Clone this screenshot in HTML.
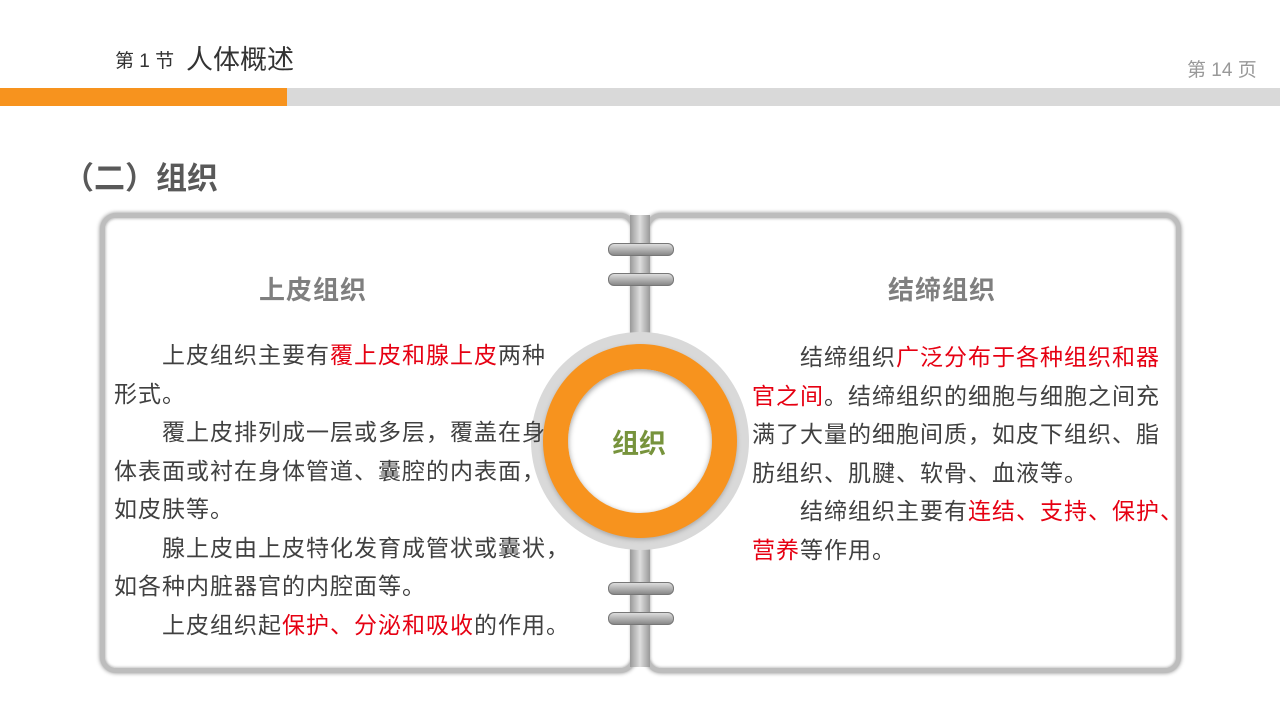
<!DOCTYPE html>
<html><head><meta charset="utf-8"><style>
body{margin:0;width:1280px;height:720px;background:#fff;position:relative;overflow:hidden;font-family:"Liberation Sans","Noto Sans CJK SC",sans-serif;}
.a{position:absolute;white-space:nowrap}
.panel{position:absolute;top:213px;height:450px;border:5px solid #bdbdbd;border-radius:16px;background:#fff;box-shadow:0 0 4px #888, inset 0 0 3px #999;}
.t{font-size:23px;letter-spacing:1px;color:#404040;line-height:38.5px;position:absolute}
.r{color:#e60012}
.ring{position:absolute;left:608px;width:64px;height:11px;border-radius:6px;background:linear-gradient(#ddd,#888);border:1px solid #777}
</style></head><body>
<div class="a" style="left:115px;top:46px;font-size:19px;color:#333">第 1 节</div>
<div class="a" style="left:186px;top:38px;font-size:27px;color:#333">人体概述</div>
<div class="a" style="left:1187px;top:55px;font-size:19px;color:#999">第 14 页</div>
<div class="a" style="left:0;top:88px;width:287px;height:18px;background:#f7931e"></div>
<div class="a" style="left:287px;top:88px;width:993px;height:18px;background:#d9d9d9"></div>
<div class="a" style="left:63px;top:153px;font-size:31px;font-weight:bold;color:#595959">（二）组织</div>

<div class="panel" style="left:100px;width:526px"></div>
<div class="panel" style="left:645px;width:526px"></div>
<div class="a" style="left:630px;top:215px;width:20px;height:452px;background:linear-gradient(90deg,#999,#ddd,#999)"></div>
<div class="ring" style="top:243px"></div>
<div class="ring" style="top:273px"></div>
<div class="ring" style="top:582px"></div>
<div class="ring" style="top:612px"></div>

<div class="a" style="left:531px;top:332px;width:218px;height:218px;border-radius:50%;background:#d9d9d9"></div>
<div class="a" style="left:543px;top:344px;width:194px;height:194px;border-radius:50%;background:#f7931e;box-shadow:0 2px 4px #aaa"></div>
<div class="a" style="left:568px;top:369px;width:144px;height:144px;border-radius:50%;background:#fff;box-shadow:inset 0 2px 6px #999"></div>
<div class="a" style="left:612px;top:422px;font-size:27px;font-weight:bold;color:#77933c">组织</div>

<div class="a" style="left:259px;top:270px;font-size:26px;letter-spacing:1px;font-weight:bold;color:#7f7f7f">上皮组织</div>
<div class="a" style="left:888px;top:270px;font-size:26px;letter-spacing:1px;font-weight:bold;color:#7f7f7f">结缔组织</div>

<div class="t" style="left:114px;top:336px;width:460px">
<div>　　上皮组织主要有<span class="r">覆上皮和腺上皮</span>两种</div>
<div>形式。</div>
<div>　　覆上皮排列成一层或多层，覆盖在身</div>
<div>体表面或衬在身体管道、囊腔的内表面，</div>
<div>如皮肤等。</div>
<div>　　腺上皮由上皮特化发育成管状或囊状，</div>
<div>如各种内脏器官的内腔面等。</div>
<div>　　上皮组织起<span class="r">保护、分泌和吸收</span>的作用。</div>
</div>
<div class="t" style="left:752px;top:338px;width:440px">
<div>　　结缔组织<span class="r">广泛分布于各种组织和器</span></div>
<div><span class="r">官之间</span>。结缔组织的细胞与细胞之间充</div>
<div>满了大量的细胞间质，如皮下组织、脂</div>
<div>肪组织、肌腱、软骨、血液等。</div>
<div>　　结缔组织主要有<span class="r">连结、支持、保护、</span></div>
<div><span class="r">营养</span>等作用。</div>
</div>
</body></html>
